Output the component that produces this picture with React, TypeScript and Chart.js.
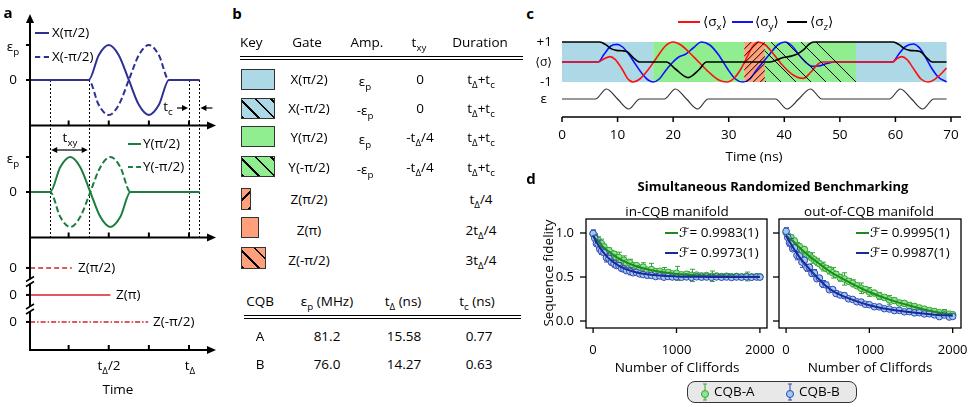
import React, { useEffect, useRef } from "react";
import { Chart, registerables } from "chart.js";
Chart.register(...registerables);

const FONT = '"Open Sans", "DejaVu Sans", sans-serif';

// ---------------- Panel a data (time in units of t_Δ) ----------------
const aXPulseT = [0.01, 0.375, 0.4375, 0.5, 0.5625, 0.625, 0.6875, 0.75, 0.8125, 0.875, 1.065];
const aXPlus = [0, 0, 0.71, 1, 0.71, 0, -0.71, -1, -0.71, 0, 0];
const aXMinus = [0, 0, -0.71, -1, -0.71, 0, 0.71, 1, 0.71, 0, 0];
const aYPulseT = [0.01, 0.135, 0.1975, 0.26, 0.3225, 0.385, 0.4475, 0.51, 0.5725, 0.635, 1.065];
const aYPlus = [0, 0, 0.71, 1, 0.71, 0, -0.71, -1, -0.71, 0, 0];
const aYMinus = [0, 0, -0.71, -1, -0.71, 0, 0.71, 1, 0.71, 0, 0];
const aZEnd = [0.27, 0.51, 0.745];
const aZRow = [3, 2, 1];
const aMarkT = [0.135, 0.375, 1.0, 1.065];
const aTicks = [0.25, 0.5, 0.75, 1.0];

// ---------------- Panel b data ----------------
const bGates = ["X(π/2)", "X(-π/2)", "Y(π/2)", "Y(-π/2)", "Z(π/2)", "Z(π)", "Z(-π/2)"];
const bAmp = ["ε_p", "-ε_p", "ε_p", "-ε_p", "", "", ""];
const bTxy = ["0", "0", "-t_Δ/4", "-t_Δ/4", "", "", ""];
const bDur = ["t_Δ+t_c", "t_Δ+t_c", "t_Δ+t_c", "t_Δ+t_c", "t_Δ/4", "2t_Δ/4", "3t_Δ/4"];
const cqbNames = ["A", "B"];
const cqbEps = ["81.2", "76.0"];
const cqbTDelta = ["15.58", "14.27"];
const cqbTc = ["0.77", "0.63"];

// ---------------- Panel c data (time in ns) ----------------
const cBandStart = [0, 16.4, 32.8, 36.5, 52.9];
const cBandEnd = [16.4, 32.8, 36.5, 52.9, 69.2];
const cBandGate = ["X(π/2)", "Y(π/2)", "Z(π/2)", "Y(-π/2)", "X(π/2)"];
const cSxT = [0, 6.5, 7.5, 8.6, 9.6, 10.8, 11.8, 12.8, 14.0, 15.6, 17.0, 18.6, 20.0, 21.4, 23.0, 24.6, 26.4, 28.2, 29.7, 31.0, 32.3, 33.4, 34.3, 35.3, 36.6, 38.2, 39.8, 41.6, 43.4, 44.8, 46.0, 46.8, 59.5, 60.2, 61.1, 62.1, 63.3, 64.6, 65.9, 67.0, 68.2, 69.2];
const cSxV = [0, 0, 0.15, 0.27, 0.12, -0.35, -0.82, -1, -0.85, -0.35, 0.2, 0.8, 1, 0.85, 0.45, 0, -0.5, -0.9, -1, -0.8, -0.3, 0.3, 0.78, 1, 0.85, 0.35, -0.2, -0.65, -0.82, -0.5, -0.12, 0, 0, 0.15, 0.27, 0.12, -0.35, -0.85, -1, -0.88, -0.6, -0.3];
const cSyT = [0, 6.5, 7.6, 8.8, 9.9, 10.9, 12.0, 13.2, 14.6, 15.5, 16.4, 17.5, 18.6, 19.8, 21.0, 22.3, 23.6, 25.1, 26.6, 28.2, 29.8, 31.2, 32.5, 33.8, 35.0, 36.2, 37.4, 38.8, 40.1, 41.4, 42.8, 44.0, 45.0, 46.2, 47.6, 49.0, 59.5, 60.5, 61.7, 63.2, 64.3, 65.4, 66.5, 67.7, 69.2];
const cSyV = [0, 0, 0.4, 0.8, 0.88, 0.75, 0.4, -0.1, -0.65, -0.9, -1, -0.85, -0.45, -0.05, 0.25, 0.4, 0.7, 1, 0.85, 0.35, -0.35, -0.85, -1, -0.85, -0.4, 0, 0.4, 0.85, 1, 0.8, 0.3, -0.05, -0.22, -0.2, -0.08, 0, 0, 0.35, 0.75, 0.9, 0.72, 0.25, -0.3, -0.75, -1];
const cSzT = [0, 6.8, 7.8, 8.8, 9.8, 10.8, 11.8, 12.8, 14.0, 18.8, 20.4, 22.7, 24.6, 26.0, 37.4, 38.6, 39.8, 41.0, 42.2, 43.5, 44.5, 45.3, 59.6, 60.6, 61.6, 62.6, 63.6, 64.6, 65.6, 66.6, 69.2];
const cSzV = [1, 1, 0.88, 0.67, 0.58, 0.56, 0.5, 0.22, 0, 0, -0.35, -0.78, -0.4, 0, 0, 0.1, 0.22, 0.28, 0.38, 0.62, 0.9, 1, 1, 0.88, 0.67, 0.58, 0.56, 0.5, 0.22, 0, 0];
const cEpsT = [0, 6.0, 8.0, 10.0, 12.0, 14.0, 18.4, 20.4, 22.4, 24.4, 26.3, 38.4, 40.5, 42.6, 44.7, 46.8, 58.9, 60.9, 62.9, 64.9, 66.9, 69.2];
const cEpsV = [0, 0, 1, 0, -1, 0, 0, 1, 0, -1, 0, 0, -1, 0, 1, 0, 0, 1, 0, -1, 0, 0];
const cTicks = [0, 10, 20, 30, 40, 50, 60, 70];

// ---------------- Panel d data ----------------
const dM = [0, 20, 40, 60, 80, 100, 130, 160, 190, 220, 250, 280, 310, 340, 370, 400, 440, 480, 520, 560, 600, 650, 700, 750, 800, 850, 900, 950, 1000, 1060, 1120, 1180, 1240, 1300, 1360, 1420, 1480, 1540, 1600, 1660, 1720, 1780, 1840, 1900, 1960, 2000];
const dInA = [0.990, 0.962, 0.905, 0.918, 0.870, 0.880, 0.842, 0.795, 0.800, 0.752, 0.760, 0.718, 0.722, 0.680, 0.690, 0.660, 0.662, 0.628, 0.630, 0.600, 0.612, 0.578, 0.585, 0.560, 0.565, 0.548, 0.552, 0.535, 0.541, 0.525, 0.531, 0.518, 0.522, 0.512, 0.517, 0.508, 0.512, 0.505, 0.509, 0.503, 0.507, 0.502, 0.506, 0.501, 0.504, 0.502];
const dInAErr = [0.04, 0.03, 0.03, 0.04, 0.03, 0.05, 0.03, 0.04, 0.03, 0.05, 0.03, 0.04, 0.06, 0.03, 0.05, 0.03, 0.04, 0.03, 0.02, 0.03, 0.05, 0.02, 0.07, 0.03, 0.02, 0.06, 0.03, 0.02, 0.08, 0.02, 0.03, 0.07, 0.02, 0.03, 0.02, 0.06, 0.02, 0.02, 0.03, 0.02, 0.02, 0.02, 0.05, 0.02, 0.02, 0.02];
const dInB = [0.995, 0.940, 0.880, 0.870, 0.815, 0.795, 0.775, 0.720, 0.712, 0.668, 0.652, 0.630, 0.628, 0.598, 0.590, 0.572, 0.565, 0.548, 0.552, 0.535, 0.528, 0.520, 0.518, 0.505, 0.512, 0.498, 0.506, 0.500, 0.503, 0.497, 0.501, 0.495, 0.502, 0.498, 0.500, 0.496, 0.501, 0.497, 0.500, 0.495, 0.500, 0.498, 0.501, 0.497, 0.500, 0.499];
const dInBErr = [0.04, 0.04, 0.03, 0.05, 0.03, 0.04, 0.03, 0.05, 0.03, 0.03, 0.04, 0.02, 0.03, 0.02, 0.03, 0.02, 0.04, 0.02, 0.02, 0.02, 0.02, 0.03, 0.02, 0.02, 0.02, 0.02, 0.02, 0.02, 0.02, 0.02, 0.015, 0.02, 0.015, 0.02, 0.015, 0.02, 0.015, 0.02, 0.015, 0.02, 0.015, 0.02, 0.015, 0.02, 0.015, 0.02];
const dOutA = [1.005, 0.960, 0.930, 0.948, 0.885, 0.910, 0.852, 0.845, 0.800, 0.812, 0.748, 0.742, 0.716, 0.695, 0.672, 0.650, 0.618, 0.600, 0.575, 0.548, 0.530, 0.492, 0.478, 0.452, 0.428, 0.400, 0.372, 0.358, 0.330, 0.318, 0.285, 0.268, 0.240, 0.232, 0.205, 0.200, 0.172, 0.165, 0.148, 0.135, 0.118, 0.108, 0.095, 0.090, 0.078, 0.072];
const dOutAErr = [0.04, 0.03, 0.04, 0.03, 0.05, 0.03, 0.04, 0.03, 0.05, 0.03, 0.04, 0.03, 0.06, 0.03, 0.04, 0.03, 0.05, 0.03, 0.04, 0.06, 0.03, 0.04, 0.07, 0.03, 0.04, 0.03, 0.06, 0.03, 0.05, 0.03, 0.04, 0.03, 0.05, 0.03, 0.03, 0.03, 0.04, 0.03, 0.03, 0.03, 0.03, 0.03, 0.02, 0.04, 0.02, 0.02];
const dOutB = [1.020, 0.950, 0.890, 0.885, 0.820, 0.830, 0.745, 0.740, 0.670, 0.690, 0.605, 0.610, 0.540, 0.545, 0.480, 0.488, 0.420, 0.410, 0.355, 0.358, 0.312, 0.295, 0.288, 0.252, 0.245, 0.218, 0.215, 0.190, 0.185, 0.162, 0.160, 0.140, 0.136, 0.118, 0.121, 0.104, 0.106, 0.092, 0.094, 0.080, 0.082, 0.070, 0.050, 0.068, 0.045, 0.052];
const dOutBErr = [0.04, 0.03, 0.04, 0.05, 0.03, 0.04, 0.05, 0.03, 0.06, 0.03, 0.04, 0.03, 0.03, 0.04, 0.03, 0.03, 0.04, 0.03, 0.03, 0.02, 0.03, 0.02, 0.03, 0.02, 0.02, 0.02, 0.03, 0.02, 0.02, 0.02, 0.02, 0.02, 0.02, 0.02, 0.02, 0.02, 0.02, 0.02, 0.02, 0.02, 0.02, 0.02, 0.02, 0.02, 0.02, 0.02];
const dFitM = [0, 50, 100, 150, 200, 300, 400, 500, 600, 800, 1000, 1250, 1500, 1750, 2000];
const dInAFit = [0.970, 0.913, 0.862, 0.818, 0.780, 0.715, 0.666, 0.628, 0.599, 0.559, 0.535, 0.518, 0.510, 0.505, 0.503];
const dInBFit = [0.970, 0.880, 0.808, 0.748, 0.701, 0.632, 0.586, 0.556, 0.537, 0.516, 0.507, 0.502, 0.501, 0.500, 0.500];
const dOutAFit = [0.970, 0.930, 0.890, 0.845, 0.800, 0.720, 0.650, 0.580, 0.520, 0.420, 0.330, 0.240, 0.170, 0.110, 0.070];
const dOutBFit = [0.970, 0.890, 0.810, 0.740, 0.680, 0.570, 0.470, 0.380, 0.320, 0.240, 0.180, 0.130, 0.100, 0.075, 0.060];
const dFidIn = ["0.9983(1)", "0.9973(1)"];
const dFidOut = ["0.9995(1)", "0.9987(1)"];
const dXTicks = [0, 1000, 2000];
const dYTicks = [0, 0.5, 1.0];

// ---------------- styles ----------------
const C_BLUE = "#add8e6", C_GREEN = "#90ee90", C_ORANGE = "#ffa07a";
const gateStyle: any = {
  "X(π/2)": { fill: C_BLUE, hatch: "", w: 34 },
  "X(-π/2)": { fill: C_BLUE, hatch: "\\", w: 34 },
  "Y(π/2)": { fill: C_GREEN, hatch: "", w: 34 },
  "Y(-π/2)": { fill: C_GREEN, hatch: "\\", w: 34 },
  "Z(π/2)": { fill: C_ORANGE, hatch: "/", w: 10 },
  "Z(π)": { fill: C_ORANGE, hatch: "", w: 18 },
  "Z(-π/2)": { fill: C_ORANGE, hatch: "\\", w: 25 },
};
const A_COL_X = "#2e3192", A_COL_Y = "#1b7d3f", A_COL_Z = "#d62027";
const D_GREEN_LINE = "#1e8a1e", D_BLUE_LINE = "#1c2896";
const D_GREEN_PT = "#8fe48f", D_BLUE_PT = "#9ccbf0";
const D_GREEN_EDGE = "#35a535", D_BLUE_EDGE = "#3344b8";

function rich(s: string) {
  const parts: any[] = [];
  const re = /_(\{[^}]*\}|.)/g;
  let last = 0, m: any, k = 0;
  while ((m = re.exec(s))) {
    if (m.index > last) parts.push(s.slice(last, m.index));
    const t = m[1].startsWith("{") ? m[1].slice(1, -1) : m[1];
    parts.push(<span key={k++} style={{ fontSize: "0.72em", position: "relative", top: "0.38em" }}>{t}</span>);
    last = re.lastIndex;
  }
  if (last < s.length) parts.push(s.slice(last));
  return parts;
}

function T({ x, y, a = "c", s = 13.5, b = false, c = "#000", rot = 0, children }: any) {
  const tx = a === "c" ? "-50%" : a === "r" ? "-100%" : "0%";
  return (
    <div style={{ position: "absolute", left: x, top: y, transform: `translate(${tx},-50%)${rot ? ` rotate(${rot}deg)` : ""}`, fontSize: s, fontWeight: b ? 700 : 400, color: c, whiteSpace: "nowrap", lineHeight: 1, fontFamily: FONT }}>
      {typeof children === "string" ? rich(children) : children}
    </div>
  );
}

function Sw({ x, y, w, col, dash = "solid", h = 2 }: any) {
  return <div style={{ position: "absolute", left: x, top: y - h / 2, width: w, height: 0, borderTop: `${h}px ${dash} ${col}` }} />;
}

function line(ctx: any, x0: number, y0: number, x1: number, y1: number) {
  ctx.beginPath(); ctx.moveTo(x0, y0); ctx.lineTo(x1, y1); ctx.stroke();
}
function arrowHead(ctx: any, x: number, y: number, dir: string, len = 9, hw = 4) {
  ctx.beginPath();
  if (dir === "r") { ctx.moveTo(x, y); ctx.lineTo(x - len, y - hw); ctx.lineTo(x - len, y + hw); }
  if (dir === "l") { ctx.moveTo(x, y); ctx.lineTo(x + len, y - hw); ctx.lineTo(x + len, y + hw); }
  if (dir === "u") { ctx.moveTo(x, y); ctx.lineTo(x - hw, y + len); ctx.lineTo(x + hw, y + len); }
  ctx.closePath(); ctx.fill();
}

const baseOpts = (padding: any, scales: any) => ({
  animation: false, responsive: false, devicePixelRatio: 1, events: [],
  layout: { padding },
  plugins: { legend: { display: false }, tooltip: { enabled: false } },
  scales,
});
const pts = (xs: number[], ys: number[]) => xs.map((x, i) => ({ x, y: ys[i] }));

// ---------------- Panel a chart ----------------
const A_BASE = -1.3;
const aPlugin = {
  id: "aAxes",
  beforeDatasetsDraw(chart: any) {
    const { ctx, scales } = chart;
    const { x, y1, y2 } = scales;
    ctx.save(); ctx.strokeStyle = "#000"; ctx.lineWidth = 1; ctx.setLineDash([2, 2]);
    const top = y1.getPixelForValue(0), bot = y2.getPixelForValue(A_BASE);
    for (const t of aMarkT) { const px = Math.round(x.getPixelForValue(t)) + 0.5; line(ctx, px, top, px, bot); }
    ctx.restore();
  },
  afterDraw(chart: any) {
    const { ctx, chartArea, scales } = chart;
    const { x, y1, y2, y3 } = scales;
    ctx.save(); ctx.strokeStyle = "#000"; ctx.fillStyle = "#000"; ctx.lineWidth = 2;
    const L = chartArea.left;
    line(ctx, L, chartArea.bottom, L, chartArea.top + 8);
    arrowHead(ctx, L, chartArea.top - 1, "u");
    const bases = [y1.getPixelForValue(A_BASE), y2.getPixelForValue(A_BASE), chartArea.bottom];
    for (const b of bases) {
      line(ctx, L - 1, b, chartArea.right - 8, b);
      arrowHead(ctx, chartArea.right + 1, b, "r");
      for (const t of aTicks) { const px = x.getPixelForValue(t); line(ctx, px, b, px, b - 5); }
    }
    const yt = [y1.getPixelForValue(1), y1.getPixelForValue(0), y2.getPixelForValue(1), y2.getPixelForValue(0), ...aZRow.map((r) => y3.getPixelForValue(r))];
    for (const p of yt) line(ctx, L - 4, p, L, p);
    for (const by of [281.5, 309]) {
      ctx.strokeStyle = "#fff"; ctx.lineWidth = 4; line(ctx, L, by - 2, L, by + 2);
      ctx.strokeStyle = "#000"; ctx.lineWidth = 1.5;
      line(ctx, L - 4, by, L + 4, by - 5); line(ctx, L - 4, by + 5, L + 4, by);
    }
    ctx.lineWidth = 1.2;
    const xa = x.getPixelForValue(aMarkT[0]), xb = x.getPixelForValue(aMarkT[1]);
    const ya = y2.getPixelForValue(1.2);
    line(ctx, xa + 4, ya, xb - 4, ya);
    arrowHead(ctx, xa + 1, ya, "l", 6, 3); arrowHead(ctx, xb - 1, ya, "r", 6, 3);
    const xc = x.getPixelForValue(aMarkT[2]), xd = x.getPixelForValue(aMarkT[3]);
    const yc = y1.getPixelForValue(-0.8);
    line(ctx, xc - 12, yc, xc - 5, yc); arrowHead(ctx, xc - 1, yc, "r", 6, 3);
    line(ctx, xd + 13, yc, xd + 5, yc); arrowHead(ctx, xd + 1, yc, "l", 6, 3);
    ctx.restore();
  },
};

function PanelA() {
  const ref = useRef<HTMLCanvasElement>(null);
  useEffect(() => {
    const L = (data: any, axis: string, col: string, dash: number[] = [], w = 2) => ({
      data, yAxisID: axis, borderColor: col, borderDash: dash, borderWidth: w, pointRadius: 0, cubicInterpolationMode: "monotone", fill: false,
    });
    const datasets = [
      L(pts(aXPulseT, aXPlus), "y1", A_COL_X),
      L(pts(aXPulseT, aXMinus), "y1", A_COL_X, [6, 3]),
      L(pts(aYPulseT, aYPlus), "y2", A_COL_Y),
      L(pts(aYPulseT, aYMinus), "y2", A_COL_Y, [6, 3]),
      L([{ x: 0.01, y: aZRow[0] }, { x: aZEnd[0], y: aZRow[0] }], "y3", A_COL_Z, [5, 3], 1.6),
      L([{ x: 0.01, y: aZRow[1] }, { x: aZEnd[1], y: aZRow[1] }], "y3", A_COL_Z, [], 1.6),
      L([{ x: 0.01, y: aZRow[2] }, { x: aZEnd[2], y: aZRow[2] }], "y3", A_COL_Z, [5, 2, 1.5, 2], 1.6),
    ];
    const chart = new Chart(ref.current as any, {
      type: "line",
      data: { datasets } as any,
      options: baseOpts({ left: 30, top: 15, right: 15, bottom: 57 }, {
        x: { type: "linear", display: false, min: 0.0093, max: 1.162 },
        y1: { type: "linear", display: false, min: -7.714, max: 1.857 },
        y2: { type: "linear", display: false, min: -4.514, max: 5.057 },
        y3: { type: "linear", display: false, min: -0.04, max: 12.37 },
      }) as any,
      plugins: [aPlugin],
    });
    return () => chart.destroy();
  }, []);
  return <canvas ref={ref} width={230} height={407} style={{ position: "absolute", left: 0, top: 0, width: 230, height: 407 }} />;
}

// ---------------- Panel c chart ----------------
const cPlugin = {
  id: "cBands",
  beforeDatasetsDraw(chart: any) {
    const { ctx, scales } = chart;
    const { x, y } = scales;
    const top = y.getPixelForValue(1), bot = y.getPixelForValue(-1);
    ctx.save();
    cBandGate.forEach((g, i) => {
      const st = gateStyle[g];
      const x0 = x.getPixelForValue(cBandStart[i]), x1 = x.getPixelForValue(cBandEnd[i]);
      ctx.fillStyle = st.fill; ctx.fillRect(x0, top, x1 - x0, bot - top);
    });
    ctx.restore();
  },
  afterDatasetsDraw(chart: any) {
    const { ctx, scales } = chart;
    const { x, y } = scales;
    const top = y.getPixelForValue(1), bot = y.getPixelForValue(-1);
    cBandGate.forEach((g, i) => {
      const st = gateStyle[g];
      if (!st.hatch) return;
      const x0 = x.getPixelForValue(cBandStart[i]), x1 = x.getPixelForValue(cBandEnd[i]);
      ctx.save(); ctx.beginPath(); ctx.rect(x0, top, x1 - x0, bot - top); ctx.clip();
      ctx.strokeStyle = "#000"; ctx.lineWidth = 1;
      const h = bot - top, sp = st.hatch === "/" ? 7 : 15;
      if (st.hatch === "/") { for (let k = x0 - h; k < x1; k += sp) line(ctx, k, bot, k + h, top); }
      else { for (let k = x1; k > x0 - h; k -= sp) line(ctx, k - h, top, k, bot); }
      ctx.restore();
    });
  },
  afterDraw(chart: any) {
    const { ctx, chartArea, scales } = chart;
    const { x } = scales;
    ctx.save(); ctx.strokeStyle = "#000"; ctx.fillStyle = "#000"; ctx.lineWidth = 1.5;
    line(ctx, chartArea.left, chartArea.bottom, chartArea.right, chartArea.bottom);
    ctx.font = `13.5px ${FONT}`; ctx.textAlign = "center"; ctx.textBaseline = "middle";
    for (const t of cTicks) {
      const px = x.getPixelForValue(t);
      line(ctx, px, chartArea.bottom, px, chartArea.bottom + 5);
      ctx.fillText(String(t), px, chartArea.bottom + 18);
    }
    ctx.restore();
  },
};

function PanelC() {
  const ref = useRef<HTMLCanvasElement>(null);
  useEffect(() => {
    const L = (data: any, axis: string, col: string, w: number) => ({ data, yAxisID: axis, borderColor: col, borderWidth: w, pointRadius: 0, cubicInterpolationMode: "monotone", fill: false });
    const chart = new Chart(ref.current as any, {
      type: "line",
      data: { datasets: [
        L(pts(cSzT, cSzV), "y", "#000", 1.6),
        L(pts(cSxT, cSxV), "y", "#ff1010", 1.6),
        L(pts(cSyT, cSyV), "y", "#1010ff", 1.6),
        L(pts(cEpsT, cEpsV), "yE", "#333", 1.2),
      ] } as any,
      options: baseOpts({ left: 22, right: 8, top: 38, bottom: 58 }, {
        x: { type: "linear", display: false, min: 0, max: 71.8 },
        y: { type: "linear", display: false, min: -2.75, max: 1.2 },
        yE: { type: "linear", display: false, min: -1.8, max: 6.1 },
      }) as any,
      plugins: [cPlugin],
    });
    return () => chart.destroy();
  }, []);
  return <canvas ref={ref} width={429} height={175} style={{ position: "absolute", left: 540, top: 0, width: 429, height: 175 }} />;
}

// ---------------- Panel d charts ----------------
const errPlugin = {
  id: "errbars",
  beforeDatasetDraw(chart: any, args: any) {
    const ds: any = chart.data.datasets[args.index];
    if (!ds.errors) return;
    const { ctx, chartArea, scales } = chart;
    const { x, y } = scales;
    ctx.save();
    ctx.beginPath(); ctx.rect(chartArea.left, chartArea.top, chartArea.right - chartArea.left, chartArea.bottom - chartArea.top); ctx.clip();
    ctx.strokeStyle = ds.errColor; ctx.lineWidth = 1;
    ds.data.forEach((p: any, i: number) => {
      const e = ds.errors[i];
      const px = Math.round(x.getPixelForValue(p.x)) + 0.5;
      const ya = y.getPixelForValue(p.y - e), yb = y.getPixelForValue(p.y + e);
      line(ctx, px, ya, px, yb); line(ctx, px - 2.5, ya, px + 2.5, ya); line(ctx, px - 2.5, yb, px + 2.5, yb);
    });
    ctx.restore();
  },
};
const dAxesPlugin = {
  id: "dAxes",
  afterDraw(chart: any, _a: any, opts: any) {
    const { ctx, chartArea, scales } = chart;
    const { x, y } = scales;
    ctx.save(); ctx.strokeStyle = "#000"; ctx.fillStyle = "#000"; ctx.lineWidth = 1.3;
    ctx.strokeRect(chartArea.left, chartArea.top, chartArea.right - chartArea.left, chartArea.bottom - chartArea.top);
    ctx.font = `13px ${FONT}`; ctx.textBaseline = "middle";
    ctx.textAlign = "center";
    for (const t of dXTicks) { const px = x.getPixelForValue(t); line(ctx, px, chartArea.bottom, px, chartArea.bottom + 5); ctx.fillText(String(t), px, chartArea.bottom + 22); }
    ctx.textAlign = "right";
    for (const t of dYTicks) {
      const py = y.getPixelForValue(t); line(ctx, chartArea.left - 6, py, chartArea.left, py);
      if (opts && opts.labels) ctx.fillText(t.toFixed(1), chartArea.left - 12, py);
    }
    ctx.restore();
  },
};

function PanelDChart({ left, width, padL, padR, A, AErr, B, BErr, AFit, BFit, xmax, labels }: any) {
  const ref = useRef<HTMLCanvasElement>(null);
  useEffect(() => {
    const chart = new Chart(ref.current as any, {
      type: "line",
      data: { datasets: [
        { data: pts(dFitM, BFit), borderColor: D_BLUE_LINE, borderWidth: 2, pointRadius: 0, cubicInterpolationMode: "monotone", fill: false },
        { data: pts(dFitM, AFit), borderColor: D_GREEN_LINE, borderWidth: 2, pointRadius: 0, cubicInterpolationMode: "monotone", fill: false },
        { data: pts(dM, B), showLine: false, pointRadius: 3.3, pointBackgroundColor: D_BLUE_PT, pointBorderColor: D_BLUE_EDGE, pointBorderWidth: 1, errors: BErr, errColor: D_BLUE_EDGE },
        { data: pts(dM, A), showLine: false, pointRadius: 3.3, pointBackgroundColor: D_GREEN_PT, pointBorderColor: D_GREEN_EDGE, pointBorderWidth: 1, errors: AErr, errColor: D_GREEN_EDGE },
      ] } as any,
      options: {
        ...baseOpts({ left: padL, right: padR, top: 19, bottom: 47 }, {
          x: { type: "linear", display: false, min: -85, max: xmax },
          y: { type: "linear", display: false, min: -0.0795, max: 1.159 },
        }),
        plugins: { legend: { display: false }, tooltip: { enabled: false }, dAxes: { labels } },
      } as any,
      plugins: [errPlugin, dAxesPlugin],
    });
    return () => chart.destroy();
  }, []);
  return <canvas ref={ref} width={width} height={175} style={{ position: "absolute", left, top: 200, width, height: 175 }} />;
}

function ErrMarker({ fill, stroke }: any) {
  return (
    <svg width="10" height="20" style={{ display: "block" }}>
      <line x1="5" y1="2" x2="5" y2="18" stroke={stroke} strokeWidth="1" />
      <line x1="3" y1="2" x2="7" y2="2" stroke={stroke} strokeWidth="1" />
      <line x1="3" y1="18" x2="7" y2="18" stroke={stroke} strokeWidth="1" />
      <circle cx="5" cy="12" r="3.5" fill={fill} stroke={stroke} strokeWidth="1" />
    </svg>
  );
}

function hatchCss(h: string) {
  if (h === "\\") return "repeating-linear-gradient(45deg, #000 0 2px, transparent 2px 11px)";
  if (h === "/") return "repeating-linear-gradient(-45deg, #000 0 2px, transparent 2px 11px)";
  return "none";
}

const TXY = "t_{xy}";

export default function App() {
  const keyTop = [69, 98, 126, 156, 188, 217, 247];
  const keyH = [21, 21, 21, 21, 22, 21, 22];
  const rowY = [80, 109, 138, 168, 200, 231, 261];
  return (
    <div style={{ position: "absolute", left: 0, top: 0, width: 969, height: 407, background: "#fff", overflow: "hidden", fontFamily: FONT }}>
      <PanelA />
      <T x={8} y={12} s={15} b>a</T>
      <T x={13} y={47}>{"ε_p"}</T>
      <T x={13} y={80}>0</T>
      <T x={13} y={159}>{"ε_p"}</T>
      <T x={13} y={192}>0</T>
      {aZRow.map((r, i) => <T key={i} x={13} y={[268, 295, 322][i]}>0</T>)}
      <Sw x={35} y={33} w={14} col={A_COL_X} />
      <T x={52} y={33} a="l">X(π/2)</T>
      <Sw x={35} y={57} w={14} col={A_COL_X} dash="dashed" />
      <T x={52} y={57} a="l">X(-π/2)</T>
      <Sw x={128} y={144} w={13} col={A_COL_Y} />
      <T x={143} y={144} a="l">Y(π/2)</T>
      <Sw x={128} y={167} w={13} col={A_COL_Y} dash="dashed" />
      <T x={143} y={167} a="l">Y(-π/2)</T>
      <T x={70} y={138}>{TXY}</T>
      <T x={168} y={107}>{"t_c"}</T>
      <T x={78} y={268} a="l">Z(π/2)</T>
      <T x={116} y={295} a="l">Z(π)</T>
      <T x={153} y={322} a="l">Z(-π/2)</T>
      <T x={109} y={366}>{"t_Δ/2"}</T>
      <T x={190} y={366}>{"t_Δ"}</T>
      <T x={118} y={390}>Time</T>

      <T x={237} y={13} s={15} b>b</T>
      <T x={240} y={43} a="l">Key</T>
      <T x={307} y={43}>Gate</T>
      <T x={367} y={43}>Amp.</T>
      <T x={419} y={43}>{TXY}</T>
      <T x={480} y={43}>Duration</T>
      <div style={{ position: "absolute", left: 240, top: 56, width: 283, height: 1, background: "#000" }} />
      <div style={{ position: "absolute", left: 240, top: 59, width: 283, height: 1, background: "#000" }} />
      {bGates.map((g, i) => {
        const st = gateStyle[g];
        return (
          <React.Fragment key={g}>
            <div style={{ position: "absolute", left: 241, top: keyTop[i], width: st.w, height: keyH[i], boxSizing: "border-box", border: "1.5px solid #333", backgroundImage: hatchCss(st.hatch), backgroundColor: st.fill }} />
            <T x={309} y={rowY[i]}>{g}</T>
            {bAmp[i] && <T x={365} y={rowY[i] + 2}>{bAmp[i]}</T>}
            {bTxy[i] && <T x={420} y={rowY[i]}>{bTxy[i]}</T>}
            <T x={481} y={rowY[i]}>{bDur[i]}</T>
          </React.Fragment>
        );
      })}
      <T x={260} y={302}>CQB</T>
      <T x={327} y={302}>{"ε_p (MHz)"}</T>
      <T x={403} y={302}>{"t_Δ (ns)"}</T>
      <T x={477} y={302}>{"t_c (ns)"}</T>
      <div style={{ position: "absolute", left: 244, top: 315, width: 277, height: 1, background: "#000" }} />
      <div style={{ position: "absolute", left: 244, top: 318, width: 277, height: 1, background: "#000" }} />
      {cqbNames.map((n, i) => (
        <React.Fragment key={n}>
          <T x={260} y={337 + 28 * i}>{n}</T>
          <T x={327} y={337 + 28 * i}>{cqbEps[i]}</T>
          <T x={404} y={337 + 28 * i}>{cqbTDelta[i]}</T>
          <T x={479} y={337 + 28 * i}>{cqbTc[i]}</T>
        </React.Fragment>
      ))}

      <PanelC />
      <T x={530} y={13} s={15} b>c</T>
      <Sw x={678} y={22} w={22} col="#ff1010" />
      <T x={703} y={22} a="l">{"⟨σ_x⟩"}</T>
      <Sw x={732} y={22} w={21} col="#1010ff" />
      <T x={755} y={22} a="l">{"⟨σ_y⟩"}</T>
      <Sw x={787} y={22} w={20} col="#000" />
      <T x={810} y={22} a="l">{"⟨σ_z⟩"}</T>
      <T x={552} y={42} a="r">+1</T>
      <T x={552} y={62} a="r" s={12}>⟨σ⟩</T>
      <T x={552} y={82} a="r">-1</T>
      <T x={547} y={99} a="r">ε</T>
      <T x={754} y={157}>Time (ns)</T>

      <T x={531} y={178} s={15} b>d</T>
      <T x={773} y={186} s={13} b>Simultaneous Randomized Benchmarking</T>
      <T x={677} y={212}>in-CQB manifold</T>
      <T x={869} y={212}>out-of-CQB manifold</T>
      <T x={549} y={273} rot={-90}>Sequence fidelity</T>
      <PanelDChart left={540} width={240} padL={46} padR={13} A={dInA} AErr={dInAErr} B={dInB} BErr={dInBErr} AFit={dInAFit} BFit={dInBFit} xmax={2085} labels={true} />
      <PanelDChart left={772} width={197} padL={7} padR={8} A={dOutA} AErr={dOutAErr} B={dOutB} BErr={dOutBErr} AFit={dOutAFit} BFit={dOutBFit} xmax={2100} labels={false} />
      <Sw x={665} y={233} w={13} col={D_GREEN_LINE} h={2.5} />
      <T x={679} y={233} a="l">{"ℱ= " + dFidIn[0]}</T>
      <Sw x={665} y={253} w={13} col={D_BLUE_LINE} h={2.5} />
      <T x={679} y={253} a="l">{"ℱ= " + dFidIn[1]}</T>
      <Sw x={856} y={233} w={13} col={D_GREEN_LINE} h={2.5} />
      <T x={870} y={233} a="l">{"ℱ= " + dFidOut[0]}</T>
      <Sw x={856} y={253} w={13} col={D_BLUE_LINE} h={2.5} />
      <T x={870} y={253} a="l">{"ℱ= " + dFidOut[1]}</T>
      <T x={677} y={368}>Number of Cliffords</T>
      <T x={870} y={368}>Number of Cliffords</T>
      <div style={{ position: "absolute", left: 687, top: 381, width: 170, height: 22, boxSizing: "border-box", border: "1px solid #333", borderRadius: 8, background: "#e8e8e8" }} />
      <div style={{ position: "absolute", left: 700, top: 382 }}><ErrMarker fill={D_GREEN_PT} stroke={D_GREEN_EDGE} /></div>
      <T x={714} y={392} a="l">CQB-A</T>
      <div style={{ position: "absolute", left: 785, top: 382 }}><ErrMarker fill={D_BLUE_PT} stroke={D_BLUE_EDGE} /></div>
      <T x={799} y={392} a="l">CQB-B</T>
    </div>
  );
}
